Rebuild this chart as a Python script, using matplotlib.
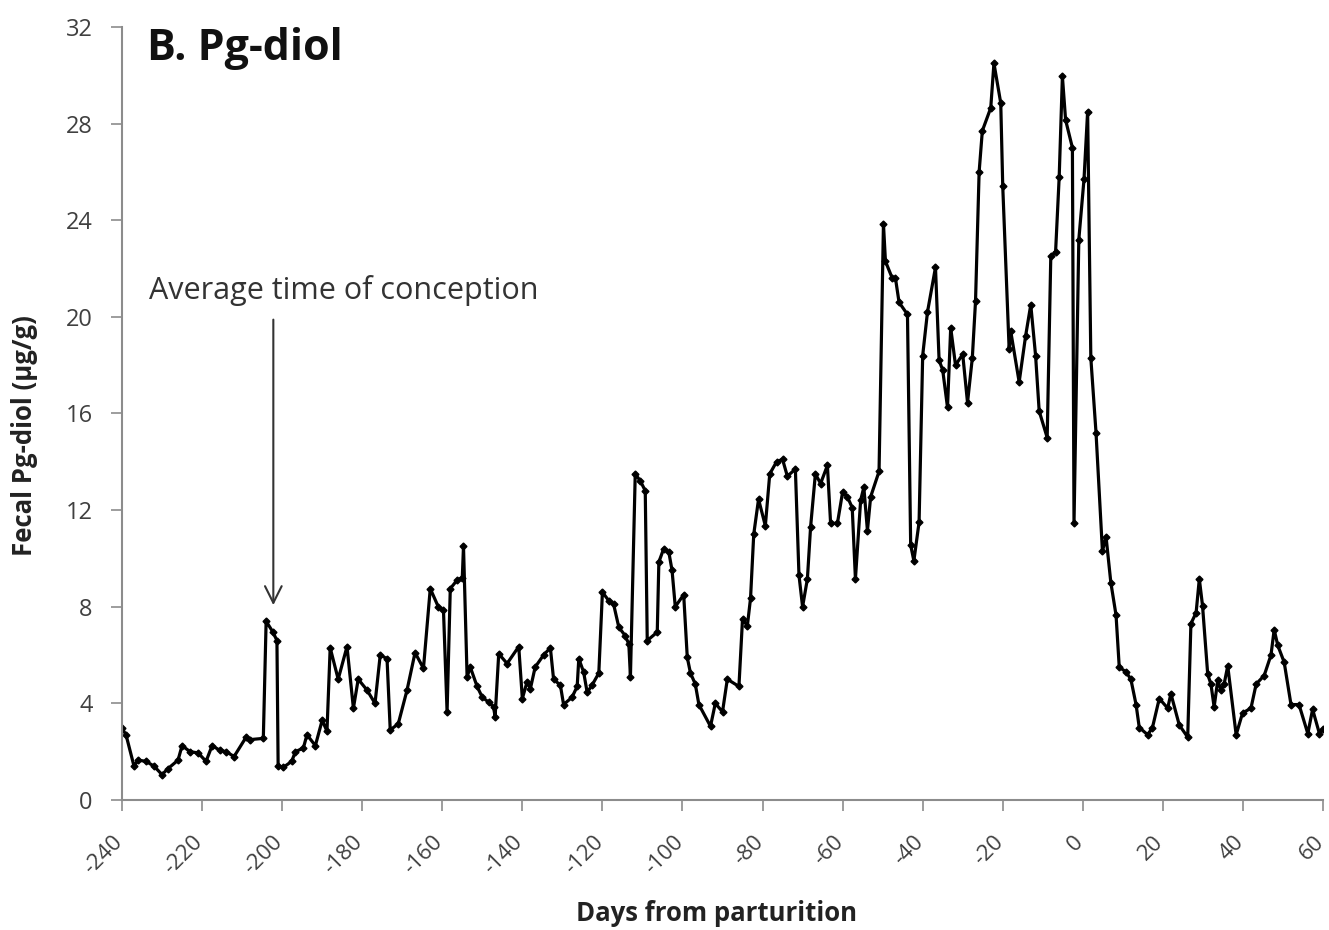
import matplotlib
matplotlib.use("Agg")
import matplotlib.pyplot as plt
from matplotlib.transforms import ScaledTranslation

# days from parturition and fecal Pg-diol (ug/g)
days = [
    -240, -239, -237, -236, -234, -232, -230, -228.5, -226, -225,
    -223, -221, -219, -217.5, -215.5, -214, -212, -209, -208, -204.7,
    -204, -202.3, -201.3, -201, -199.7, -197.6, -196.7, -194.7, -193.8, -191.7,
    -190, -188.8, -188, -186, -183.8, -182.2, -181, -178.8, -176.8, -175.5,
    -173.8, -173, -171, -168.8, -166.8, -164.7, -163, -161, -159.7, -158.8,
    -158, -156.3, -155, -154.7, -153.8, -153, -151.3, -150, -148.4, -147.2,
    -146.8, -145.9, -143.8, -140.9, -140, -138.8, -138, -136.8, -134.7, -133,
    -132.2, -130.5, -129.7, -127.6, -126.3, -125.9, -124.7, -123.8, -122.6, -120.9,
    -120, -118.4, -117.2, -115.9, -114.3, -113.4, -113, -111.8, -110.5, -109.3,
    -108.8, -106.3, -105.9, -104.7, -103.4, -102.6, -101.8, -99.7, -98.8, -98,
    -96.8, -95.9, -93, -91.8, -90, -88.8, -85.9, -85, -83.8, -83,
    -82.2, -81, -79.3, -78.2, -76.5, -75, -73.8, -71.8, -70.9, -70,
    -68.8, -68, -66.8, -65.5, -63.8, -63, -61.3, -60, -58.8, -57.6,
    -56.8, -55.5, -54.7, -53.8, -53, -50.9, -49.8, -49.3, -47.6, -46.8,
    -45.9, -43.8, -43, -42.2, -40.9, -40, -38.8, -36.8, -35.9, -35,
    -33.8, -33, -31.8, -30, -28.8, -27.6, -26.8, -25.9, -25.1, -23,
    -22.2, -20.5, -20, -18.4, -18, -15.9, -14.3, -13, -11.8, -10.9,
    -8.9, -8, -6.8, -5.9, -5.1, -4.3, -2.6, -2.2, -1.0, 0.3,
    1.2, 2.0, 3.3, 4.9, 5.8, 7, 8.3, 9.1, 10.8, 12,
    13.3, 14.1, 16.2, 17.4, 19.1, 21.2, 22, 24.1, 26.2, 27,
    28.3, 29.1, 29.9, 31.2, 32, 32.8, 33.7, 34.5, 35.3, 36.2,
    38.3, 39.9, 42, 43.3, 45.3, 47, 47.8, 48.7, 50.3, 52,
    54, 56.2, 57.4, 59.1, 60,
]
pg_diol = [
    2.97, 2.7, 1.4, 1.65, 1.6, 1.4, 1.05, 1.3, 1.65, 2.25,
    2.0, 1.95, 1.6, 2.25, 2.05, 2.0, 1.8, 2.6, 2.5, 2.55,
    7.4, 6.95, 6.6, 1.4, 1.35, 1.6, 2.0, 2.15, 2.7, 2.25,
    3.3, 2.85, 6.3, 5.0, 6.35, 3.8, 5.0, 4.55, 4.0, 6.0,
    5.85, 2.9, 3.15, 4.55, 6.1, 5.45, 8.75, 8.0, 7.85, 3.65,
    8.75, 9.1, 9.2, 10.5, 5.1, 5.5, 4.7, 4.25, 4.05, 3.85,
    3.45, 6.05, 5.65, 6.35, 4.2, 4.9, 4.6, 5.5, 6.0, 6.3,
    5.0, 4.75, 3.95, 4.25, 4.7, 5.85, 5.3, 4.45, 4.75, 5.25,
    8.6, 8.25, 8.1, 7.15, 6.8, 6.45, 5.1, 13.5, 13.2, 12.8,
    6.6, 6.95, 9.85, 10.4, 10.25, 9.5, 8.0, 8.5, 5.9, 5.25,
    4.8, 3.95, 3.05, 4.0, 3.65, 5.0, 4.7, 7.5, 7.2, 8.35,
    11.0, 12.45, 11.35, 13.5, 14.0, 14.1, 13.4, 13.7, 9.3, 8.0,
    9.15, 11.3, 13.5, 13.1, 13.85, 11.45, 11.45, 12.75, 12.55, 12.1,
    9.15, 12.4, 12.95, 11.15, 12.55, 13.6, 23.85, 22.3, 21.6, 21.6,
    20.6, 20.1, 10.55, 9.9, 11.5, 18.4, 20.2, 22.05, 18.2, 17.8,
    16.25, 19.55, 18.0, 18.45, 16.45, 18.3, 20.65, 26.0, 27.7, 28.65,
    30.5, 28.85, 25.4, 18.65, 19.4, 17.3, 19.2, 20.5, 18.4, 16.1,
    15.0, 22.5, 22.7, 25.8, 29.95, 28.15, 27.0, 11.45, 23.2, 25.7,
    28.5, 18.3, 15.2, 10.3, 10.9, 9.0, 7.65, 5.5, 5.3, 5.0,
    3.95, 3.0, 2.7, 3.0, 4.2, 3.8, 4.4, 3.1, 2.6, 7.3,
    7.75, 9.15, 8.05, 5.2, 4.8, 3.85, 4.95, 4.55, 4.8, 5.55,
    2.7, 3.6, 3.8, 4.8, 5.15, 6.0, 7.05, 6.4, 5.7, 3.95,
    3.95, 2.75, 3.75, 2.75, 2.95,
]

x_ticks = list(range(-240, 61, 20))
y_ticks = list(range(0, 33, 4))

plt.rcParams['font.family'] = ['Open Sans', 'DejaVu Sans']

fig = plt.figure(figsize=(13.29, 9.30), dpi=100)
ax = fig.add_axes([0.0918, 0.1398, 0.9037, 0.8312])

ax.plot(days, pg_diol, color='black', linewidth=2.3, marker='D',
        markersize=3.5, markerfacecolor='black', markeredgecolor='black')

ax.set_xlim(-240, 60)
ax.set_ylim(0, 32)
ax.set_xticks(x_ticks)
ax.set_yticks(y_ticks)
ax.set_xticklabels([str(t) for t in x_ticks], rotation=45, ha='right',
                   va='top', rotation_mode='anchor')

for side in ['top', 'right']:
    ax.spines[side].set_visible(False)
for side in ['left', 'bottom']:
    ax.spines[side].set_color('#8c8c8c')
    ax.spines[side].set_linewidth(1.5)
ax.tick_params(axis='both', direction='out', length=8, width=1.2,
               color='#8c8c8c', labelcolor='#404040', labelsize=17)
ax.tick_params(axis='y', pad=13)
ax.tick_params(axis='x', pad=15, labelsize=16)

# nudge the rotated day labels a little to the left, like the original
shift = ScaledTranslation(-10 / 100, 0, fig.dpi_scale_trans)
for lbl in ax.get_xticklabels():
    lbl.set_transform(lbl.get_transform() + shift)

ax.set_xlabel('Days from parturition', fontsize=18.5, fontweight='bold',
              color='#222222')
ax.xaxis.set_label_coords(0.495, -0.13)
ax.set_ylabel('Fecal Pg-diol (µg/g)', fontsize=18.5, fontweight='bold',
              color='#222222')
ax.yaxis.set_label_coords(-0.07, 0.472)

ax.text(0.021, 1.0, 'B. Pg-diol', transform=ax.transAxes, fontsize=31,
        fontweight='bold', color='#111111', va='top', ha='left')

# arrow marking the average time of conception
ax.annotate('', xy=(-202.2, 7.95), xytext=(-202.2, 20.0),
            arrowprops=dict(arrowstyle='->', color='#333333', lw=1.5,
                            mutation_scale=30))
ax.text(-233.2, 21.1, 'Average time of conception', fontsize=22,
        color='#333333', ha='left', va='center')

fig.savefig('out.png', dpi=100)
